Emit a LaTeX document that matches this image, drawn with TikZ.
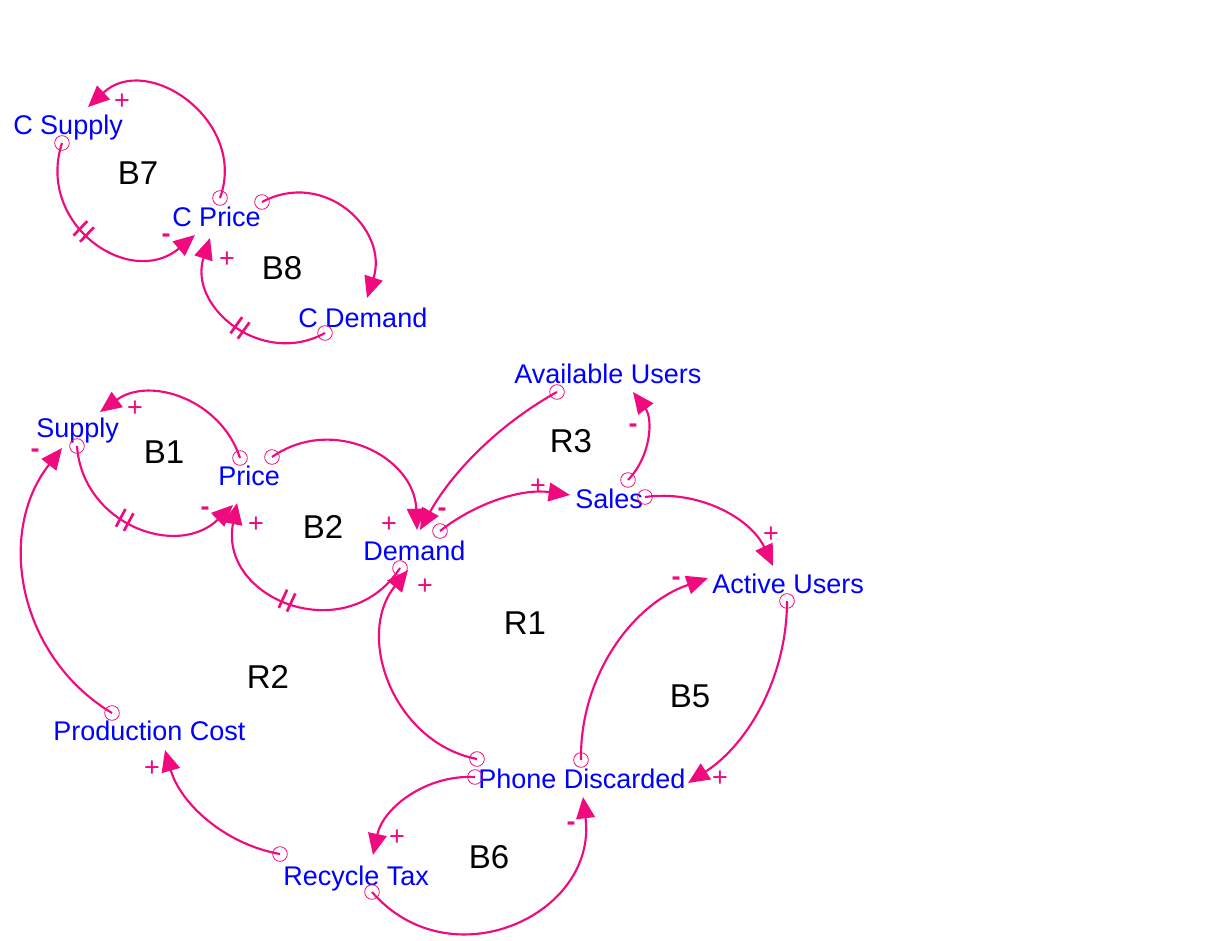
\documentclass[tikz,border=0pt]{standalone}
\usepackage{fontspec}
\setmainfont{Liberation Sans}
\usetikzlibrary{arrows.meta,decorations.markings}
\definecolor{linkpink}{RGB}{240,10,125}
\definecolor{varblue}{RGB}{0,0,255}
\begin{document}
\begin{tikzpicture}[x=0.75pt,y=-0.75pt,
  var/.style={anchor=base west,inner sep=0pt,text=varblue,font=\fontsize{20.25}{24}\selectfont},
  looplabel/.style={anchor=base,inner sep=0pt,text=black,font=\fontsize{24.75}{30}\selectfont},
  polarity/.style={inner sep=0pt,text=linkpink,font=\fontsize{20.25}{24}\selectfont},
  negative/.style={polarity,font=\fontsize{20.25}{24}\selectfont\bfseries},
  link/.style={draw=linkpink,line width=1.6pt,-{Triangle[length=16pt,width=14pt]}},
  tailmark/.style={circle,draw=linkpink,line width=0.6pt,minimum size=11pt,inner sep=0pt,pos=0},
  delaymarks/.style={postaction={decorate,decoration={markings,
      mark=at position #1 with {\draw[linkpink,line width=2pt,-] (-4.5,-10) -- (-4.5,10) (4.5,-10) -- (4.5,10);}}}}
]
\fill[white] (0,0) rectangle (1217,941);
\useasboundingbox (0,0) rectangle (1217,941);

% variables
\node[var] (csupply)  at (13,135)  {C Supply};
\node[var] (cprice)   at (172,227) {C Price};
\node[var] (cdemand)  at (298,327) {C Demand};
\node[var] (avail)    at (514,383) {Available Users};
\node[var] (supply)   at (36,437)  {Supply};
\node[var] (price)    at (218,485) {Price};
\node[var] (sales)    at (575,508) {Sales};
\node[var] (demand)   at (363,560) {Demand};
\node[var] (active)   at (712,593) {Active Users};
\node[var] (prodcost) at (53,740)  {Production Cost};
\node[var] (phone)    at (478,788) {Phone Discarded};
\node[var] (recycle)  at (283,885) {Recycle Tax};

% loop identifiers
\node[looplabel] (lb7) at (138,185) {B7};
\node[looplabel] (lb8) at (282,280) {B8};
\node[looplabel] (lb1) at (164,463) {B1};
\node[looplabel] (lb2) at (323,538) {B2};
\node[looplabel] (lr3) at (571,452) {R3};
\node[looplabel] (lr1) at (525,634) {R1};
\node[looplabel] (lr2) at (268,688) {R2};
\node[looplabel] (lb5) at (690,707) {B5};
\node[looplabel] (lb6) at (489,868) {B6};

% causal links
\draw[link] ([shift={(48,-29)}]cprice.base west) to[out=70,in=43,looseness=1.3] node[tailmark]{} ([shift={(75,-28)}]csupply.base west);
\draw[link,delaymarks=0.44] ([shift={(49,8)}]csupply.base west) to[out=252,in=220,looseness=1.35] node[tailmark]{} ([shift={(23,8)}]cprice.base west);
\draw[link] ([shift={(90,-25)}]cprice.base west) to[out=28,in=72,looseness=1.28] node[tailmark]{} ([shift={(69,-29)}]cdemand.base west);
\draw[link,delaymarks=0.47] ([shift={(27,6)}]cdemand.base west) to[out=209,in=252,looseness=1.24] node[tailmark]{} ([shift={(38,11)}]cprice.base west);

\draw[link] ([shift={(22,-27)}]price.base west) to[out=108,in=36,looseness=1.07] node[tailmark]{} ([shift={(64,-25)}]supply.base west);
\draw[link,delaymarks=0.44] ([shift={(41,9)}]supply.base west) to[out=274,in=224,looseness=1.2] node[tailmark]{} ([shift={(15,20)}]price.base west);
\draw[link] ([shift={(54,-28)}]price.base west) to[out=35,in=92,looseness=1.16] node[tailmark]{} ([shift={(54,-30)}]demand.base west);
\draw[link,delaymarks=0.52] ([shift={(37,8)}]demand.base west) to[out=237,in=259,looseness=1.43] node[tailmark]{} ([shift={(19,18)}]price.base west);
\draw[link] ([shift={(-1,-29)}]phone.base west) to[out=169,in=231,looseness=1.08] node[tailmark]{} ([shift={(45,10)}]demand.base west);
\draw[link] ([shift={(43,9)}]avail.base west) to[out=209,in=61,looseness=0.87] node[tailmark]{} ([shift={(57,-30)}]demand.base west);
\draw[link] ([shift={(77,-29)}]demand.base west) to[out=38,in=172,looseness=0.9] node[tailmark]{} ([shift={(-5,-13)}]sales.base west);
\draw[link] ([shift={(53,-28)}]sales.base west) to[out=46,in=307,looseness=0.97] node[tailmark]{} ([shift={(119,9)}]avail.base west);
\draw[link] ([shift={(70,-11)}]sales.base west) to[out=8,in=115,looseness=0.94] node[tailmark]{} ([shift={(61,-27)}]active.base west);
\draw[link] ([shift={(75,8)}]active.base west) to[out=270,in=33,looseness=0.91] node[tailmark]{} ([shift={(210,-5)}]phone.base west);
\draw[link] ([shift={(103,-28)}]phone.base west) to[out=91,in=199,looseness=0.94] node[tailmark]{} ([shift={(-4,-15)}]active.base west);
\draw[link] ([shift={(-3,-11)}]phone.base west) to[out=177,in=78,looseness=0.97] node[tailmark]{} ([shift={(90,-30)}]recycle.base west);
\draw[link] ([shift={(89,7)}]recycle.base west) to[out=311,in=277,looseness=1.32] node[tailmark]{} ([shift={(105,9)}]phone.base west);
\draw[link] ([shift={(-3,-31)}]recycle.base west) to[out=170,in=286,looseness=0.92] node[tailmark]{} ([shift={(112,10)}]prodcost.base west);
\draw[link] ([shift={(59,-27)}]prodcost.base west) to[out=149,in=232,looseness=1.03] node[tailmark]{} ([shift={(26,11)}]supply.base west);

% link polarities
\node[polarity] (p1)  at (122,102) {+};
\node[negative] (p2)  at (166,238) {-};
\node[polarity] (p4)  at (227,260) {+};
\node[polarity] (p5)  at (135,409) {+};
\node[negative] (p6)  at (205,511) {-};
\node[polarity] (p7)  at (389,525) {+};
\node[polarity] (p8)  at (256,525) {+};
\node[polarity] (p9)  at (425,587) {+};
\node[negative] (p10) at (442,512) {-};
\node[polarity] (p11) at (538,487) {+};
\node[negative] (p12) at (633,428) {-};
\node[polarity] (p13) at (771,535) {+};
\node[polarity] (p14) at (720,779) {+};
\node[negative] (p15) at (676,581) {-};
\node[polarity] (p16) at (397,838) {+};
\node[negative] (p17) at (571,826) {-};
\node[polarity] (p18) at (152,769) {+};
\node[negative] (p19) at (35,453)  {-};
\end{tikzpicture}
\end{document}
